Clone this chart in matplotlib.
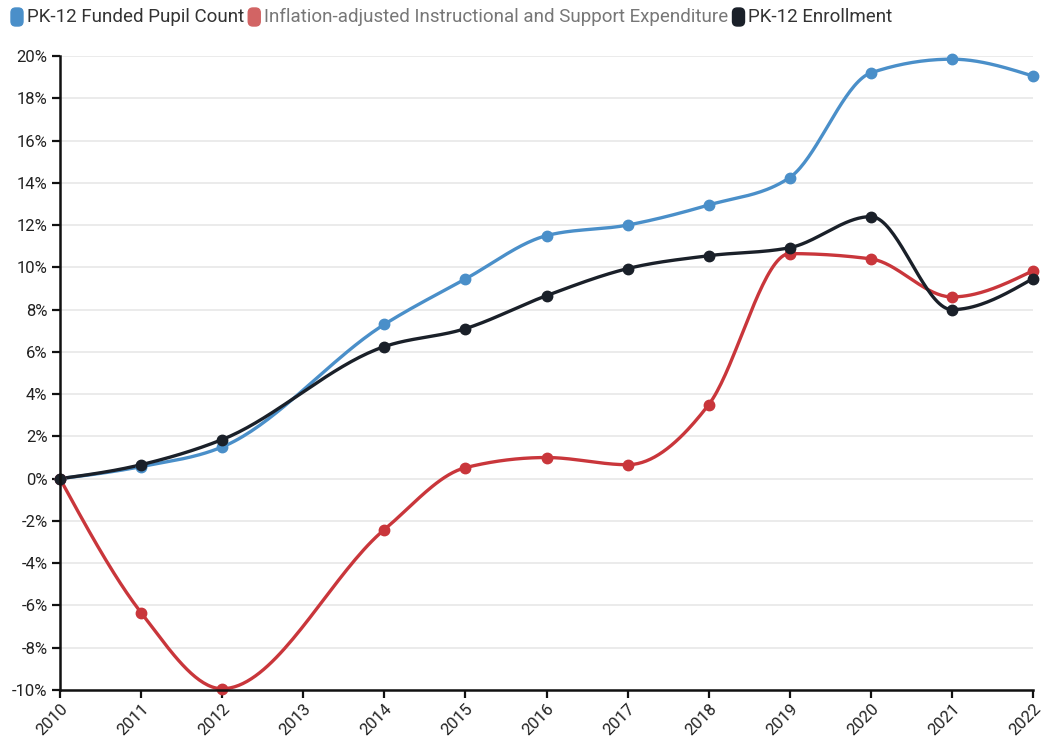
import numpy as np
import matplotlib
matplotlib.use("Agg")
import matplotlib.pyplot as plt
from matplotlib.patches import FancyBboxPatch

plt.rcParams['font.family'] = ['Roboto', 'DejaVu Sans']

years = [2010, 2011, 2012, 2014, 2015, 2016, 2017, 2018, 2019, 2020, 2021, 2022]
funded = [0.0, 0.57, 1.5, 7.3, 9.45, 11.5, 12.0, 12.95, 14.25, 19.2, 19.85, 19.05]
expend = [0.0, -6.34, -9.94, -2.41, 0.52, 1.0, 0.66, 3.5, 10.65, 10.4, 8.6, 9.84]
enroll = [0.0, 0.66, 1.85, 6.25, 7.1, 8.66, 9.94, 10.55, 10.93, 12.4, 8.0, 9.47]

labels = ["PK-12 Funded Pupil Count",
          "Inflation-adjusted Instructional and Support Expenditure",
          "PK-12 Enrollment"]
colors = ["#4a8fc9", "#c9363b", "#1a2029"]
swatch_colors = ["#4a8fc9", "#d26464", "#1a2029"]
text_colors = ["#333333", "#777777", "#333333"]


def monotone(x, y, n=40):
    # monotone cubic, like d3.curveMonotoneX
    x = np.asarray(x, float)
    y = np.asarray(y, float)
    h = np.diff(x)
    s = np.diff(y) / h
    t = np.zeros_like(y)
    for i in range(1, len(y) - 1):
        p = (s[i - 1] * h[i] + s[i] * h[i - 1]) / (h[i - 1] + h[i])
        t[i] = (np.sign(s[i - 1]) + np.sign(s[i])) * min(abs(s[i - 1]), abs(s[i]), 0.5 * abs(p))
    t[0] = (3 * s[0] - t[1]) / 2
    t[-1] = (3 * s[-1] - t[-2]) / 2
    xs, ys = [], []
    for i in range(len(h)):
        u = np.linspace(0, 1, n)
        h00 = 2 * u**3 - 3 * u**2 + 1
        h10 = u**3 - 2 * u**2 + u
        h01 = -2 * u**3 + 3 * u**2
        h11 = u**3 - u**2
        xs.append(x[i] + u * h[i])
        ys.append(h00 * y[i] + h10 * h[i] * t[i] + h01 * y[i + 1] + h11 * h[i] * t[i + 1])
    return np.concatenate(xs), np.concatenate(ys)


fig = plt.figure(figsize=(10.41, 7.42), dpi=100)
ax = fig.add_axes([60 / 1041, 52 / 742, 973 / 1041, 634 / 742])

for vals, c in zip([funded, expend, enroll], colors):
    sx, sy = monotone(years, vals)
    ax.plot(sx, sy, color=c, lw=2.4, solid_capstyle='round', zorder=3, clip_on=False)
    ax.plot(years, vals, 'o', color=c, ms=7.5, zorder=4, clip_on=False)

ax.set_xlim(2010, 2022)
ax.set_ylim(-10, 20)
ax.set_xticks(range(2010, 2023))
ax.set_xticklabels([str(y) for y in range(2010, 2023)], rotation=45, ha='right',
                   rotation_mode='anchor', fontsize=12, color='#222222')
ax.set_yticks(range(-10, 21, 2))
ax.set_yticklabels([f"{v}%" for v in range(-10, 21, 2)], fontsize=12, color='#222222')
ax.tick_params(axis='both', length=6, width=1.6, color='#111111')
ax.tick_params(axis='x', pad=2)
ax.tick_params(axis='y', pad=3)
ax.grid(axis='y', color='#e8e8e8', lw=1.2)
ax.set_axisbelow(True)
for sp in ['top', 'right']:
    ax.spines[sp].set_visible(False)
for sp in ['left', 'bottom']:
    ax.spines[sp].set_linewidth(1.8)
    ax.spines[sp].set_color('#111111')
    ax.spines[sp].set_zorder(5)

# legend drawn by hand with rounded swatches
fig.canvas.draw()
r = fig.canvas.get_renderer()
W, H = 1041, 742
xpos = 11
yc = 1 - 17 / H
for lab, sc, tc in zip(labels, swatch_colors, text_colors):
    sw = FancyBboxPatch((xpos / W, yc - 9 / H), 12 / W, 18 / H,
                        boxstyle="round,pad=0,rounding_size=0.0045",
                        transform=fig.transFigure, color=sc, mutation_aspect=W / H)
    fig.patches.append(sw)
    t = fig.text((xpos + 16) / W, yc, lab, fontsize=13.5, color=tc, va='center', ha='left')
    bb = t.get_window_extent(renderer=r)
    xpos = bb.x1 + 4

fig.savefig("out.png", dpi=100)
